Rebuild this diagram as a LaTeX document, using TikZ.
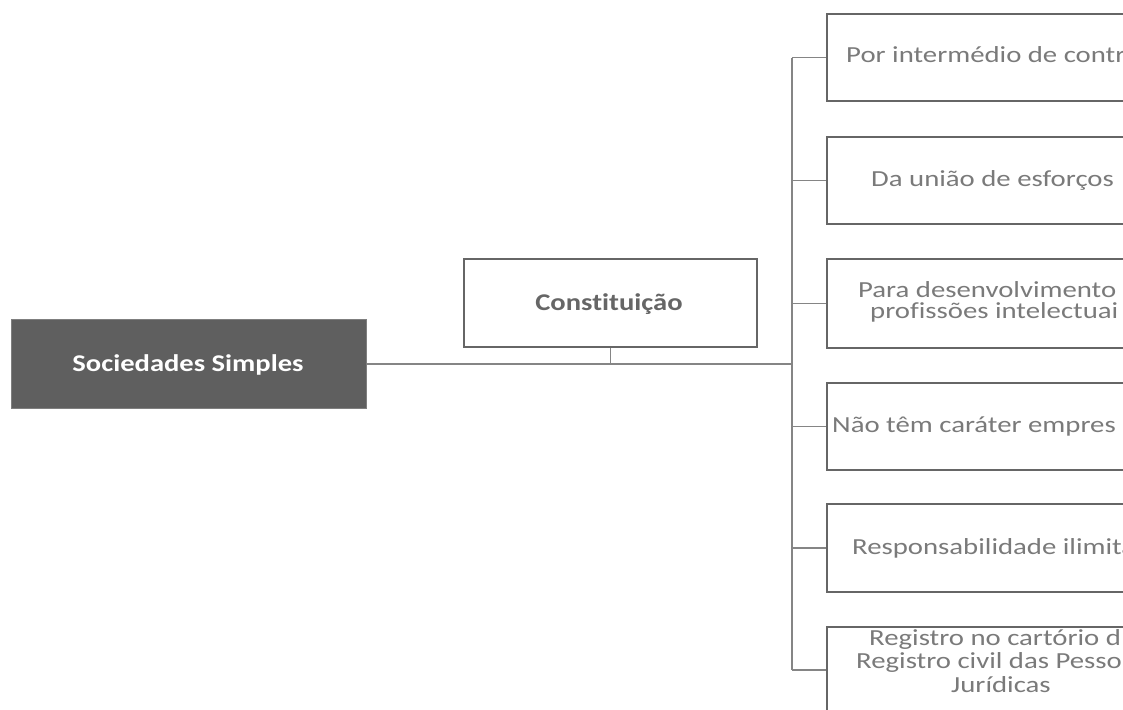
\documentclass[tikz,border=0pt]{standalone}
\usepackage{fontspec}
\newfontfamily\rfont{Carlito}[FakeStretch=1.25, Ligatures={NoCommon}]
\newfontfamily\bfont{Carlito}[FakeStretch=1.19, Ligatures={NoCommon}]
\definecolor{boxline}{HTML}{666666}
\definecolor{connline}{HTML}{858585}
\definecolor{textgray}{HTML}{7A7A7A}
\definecolor{darkfill}{HTML}{5F5F5F}
\definecolor{consttext}{HTML}{666666}
\begin{document}
\begin{tikzpicture}[x=1pt,y=-1pt,
  rbox/.style={draw=boxline, line width=2.2pt, fill=white, inner sep=0pt, anchor=north west},
  rootbox/.style={draw=darkfill!80!white, line width=1pt, fill=darkfill, inner sep=0pt, anchor=north west},
  conn/.style={draw=connline, line width=1.5pt},
  rtext/.style={anchor=base west, inner sep=0pt, text=textgray, font=\rfont\fontsize{23}{27}\selectfont},
  btext/.style={anchor=base, inner sep=0pt, font=\bfont\bfseries\fontsize{24}{28}\selectfont},
]
\useasboundingbox (0,0) rectangle (1123,709);
\clip (0,0) rectangle (1123,709);

% boxes
\node[rootbox, minimum width=355pt, minimum height=89pt] (ss) at (11,319) {};
\node[rbox, minimum width=293pt, minimum height=88pt] (const) at (463,258) {};
\node[rbox, minimum width=346pt, minimum height=87pt] (b1) at (826,13) {};
\node[rbox, minimum width=346pt, minimum height=87pt] (b2) at (826,136) {};
\node[rbox, minimum width=346pt, minimum height=89pt] (b3) at (826,258) {};
\node[rbox, minimum width=346pt, minimum height=87pt] (b4) at (826,382) {};
\node[rbox, minimum width=346pt, minimum height=88pt] (b5) at (826,503) {};
\node[rbox, minimum width=346pt, minimum height=86pt] (b6) at (826,626) {};

% connectors
\coordinate (j) at (792,364);
\draw[conn] (ss.east |- j) -- (j);
\draw[conn] (const.south) -- (const.south |- j);
\draw[conn] (b1.west -| j) -- (b6.west -| j);
\foreach \b in {b1,b2,b3,b4,b5,b6}{
  \draw[conn] (\b.west -| j) -- (\b.west);
}

% texts
\node[btext, text=white] (tss) at (188,371) {Sociedades Simples};
\node[btext, text=consttext] (tconst) at (609,310) {Constituição};

\node[rtext] (t1) at (846,63) {Por intermédio de contr};
\node[rtext] (t2) at (871,186) {Da união de esforços};
\node[rtext] (t3a) at (858,297) {Para desenvolvimento};
\node[rtext] (t3b) at (870,318) {profissões intelectuai};
\node[rtext] (t4) at (832,432) {Não têm caráter empres};
\node[rtext] (t5) at (852,554) {Responsabilidade ilimita};
\node[rtext] (t6a) at (869,645) {Registro no cartório d};
\node[rtext] (t6b) at (856,668) {Registro civil das Pesso};
\node[rtext] (t6c) at (951,692) {Jurídicas};
\end{tikzpicture}
\end{document}
